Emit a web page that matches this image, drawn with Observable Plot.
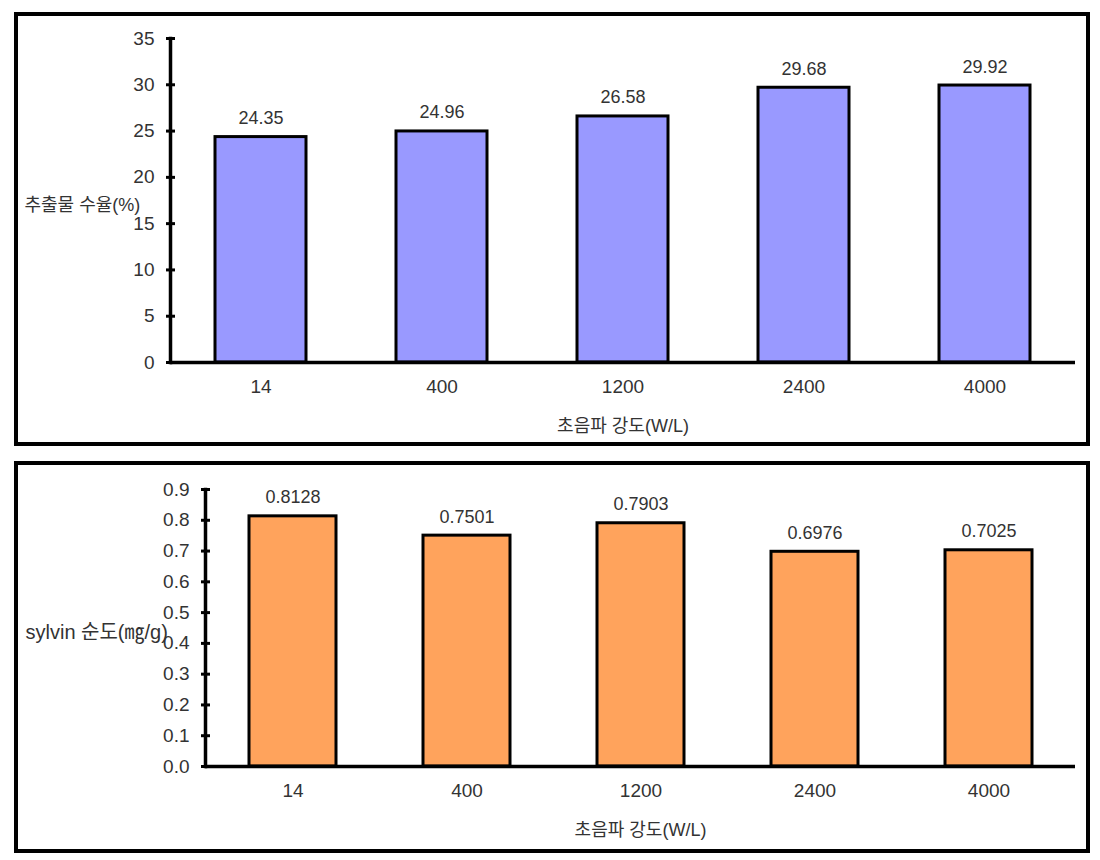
<!DOCTYPE html>
<html><head><meta charset="utf-8">
<script src="https://cdn.jsdelivr.net/npm/d3@7"></script>
<script src="https://cdn.jsdelivr.net/npm/@observablehq/plot@0.6"></script>
<style>
body{margin:0;background:#fff;}
.panel{position:absolute;left:14px;width:1076px;border:4px solid #000;box-sizing:border-box;background:#fff;overflow:hidden;}
.panel svg{overflow:hidden;display:block;}
</style></head><body>
<div id="p1" class="panel" style="top:12px;height:434px"></div>
<div id="p2" class="panel" style="top:461px;height:392px"></div>
<script>
const categories = ["14", "400", "1200", "2400", "4000"];
const yieldValues = [24.35, 24.96, 26.58, 29.68, 29.92];
const purityValues = [0.8128, 0.7501, 0.7903, 0.6976, 0.7025];
const yieldTicks = [0, 5, 10, 15, 20, 25, 30, 35];
const purityTicks = [0, 0.1, 0.2, 0.3, 0.4, 0.5, 0.6, 0.7, 0.8, 0.9];
const xTitle = "초음파 강도(W/L)";
const yieldLabel = "추출물 수율(%)";
const purityLabel = "sylvin 순도(㎎/g)";

const FONT = "'Liberation Sans','Noto Sans CJK KR',sans-serif";
const hline = {draw(ctx, size) { const r = Math.sqrt(size / Math.PI); ctx.moveTo(-r, 0); ctx.lineTo(r, 0); }};

function makeChart(cfg) {
  const data = categories.map((c, i) => ({cat: c, v: cfg.values[i]}));
  return Plot.plot({
    width: 1068, height: cfg.height,
    marginLeft: cfg.ml, marginRight: 11, marginTop: cfg.mt, marginBottom: cfg.mb,
    style: {fontFamily: FONT, fontSize: "19px", color: "#222", background: "#fff"},
    x: {domain: categories, paddingInner: 0.5, paddingOuter: 0.25, label: null},
    y: {domain: cfg.domain, label: null},
    marks: [
      Plot.barY(data, {x: "cat", y: "v", fill: cfg.color, stroke: "#000", strokeWidth: 3}),
      Plot.text(data, {x: "cat", y: "v", text: d => d3.format(cfg.fmt)(d.v), lineAnchor: "bottom", dy: -13, fill: "#333", fontSize: 18}),
      Plot.ruleY([0], {stroke: "#000", strokeWidth: 3.5}),
      Plot.frame({anchor: "left", stroke: "#000", strokeWidth: 3.5}),
      Plot.dot(cfg.ticks, {y: d => d, frameAnchor: "left", symbol: hline, r: 4.5, stroke: "#000", strokeWidth: 3}),
      Plot.axisY({ticks: cfg.ticks, tickSize: 0, tickPadding: 16, tickFormat: cfg.tickFmt, fontSize: 19, fill: "#333"}),
      Plot.axisX({tickSize: 0, tickPadding: 17, fontSize: 19, fill: "#333"}),
      Plot.text([cfg.ylabel], {frameAnchor: "left", textAnchor: "start", dx: cfg.ylDx, dy: cfg.ylDy, fontSize: cfg.ylSize, fill: "#333"}),
      Plot.text([xTitle], {frameAnchor: "bottom", lineAnchor: "top", dy: cfg.xtDy, fontSize: 18, fill: "#333"})
    ]
  });
}

document.getElementById("p1").appendChild(makeChart({
  values: yieldValues, domain: [0, 35], ticks: yieldTicks, tickFmt: d3.format("d"), fmt: ".2f",
  color: "#9999FF", height: 426, ml: 152, mt: 22, mb: 80, xtDy: 57,
  ylabel: yieldLabel, ylDx: -146, ylDy: 5, ylSize: 18
}));
document.getElementById("p2").appendChild(makeChart({
  values: purityValues, domain: [0, 0.9], ticks: purityTicks, tickFmt: d3.format(".1f"), fmt: ".4f",
  color: "#FFA35C", height: 384, ml: 187, mt: 24, mb: 83, xtDy: 57,
  ylabel: purityLabel, ylDx: -180, ylDy: 5, ylSize: 20
}));
</script>
</body></html>
